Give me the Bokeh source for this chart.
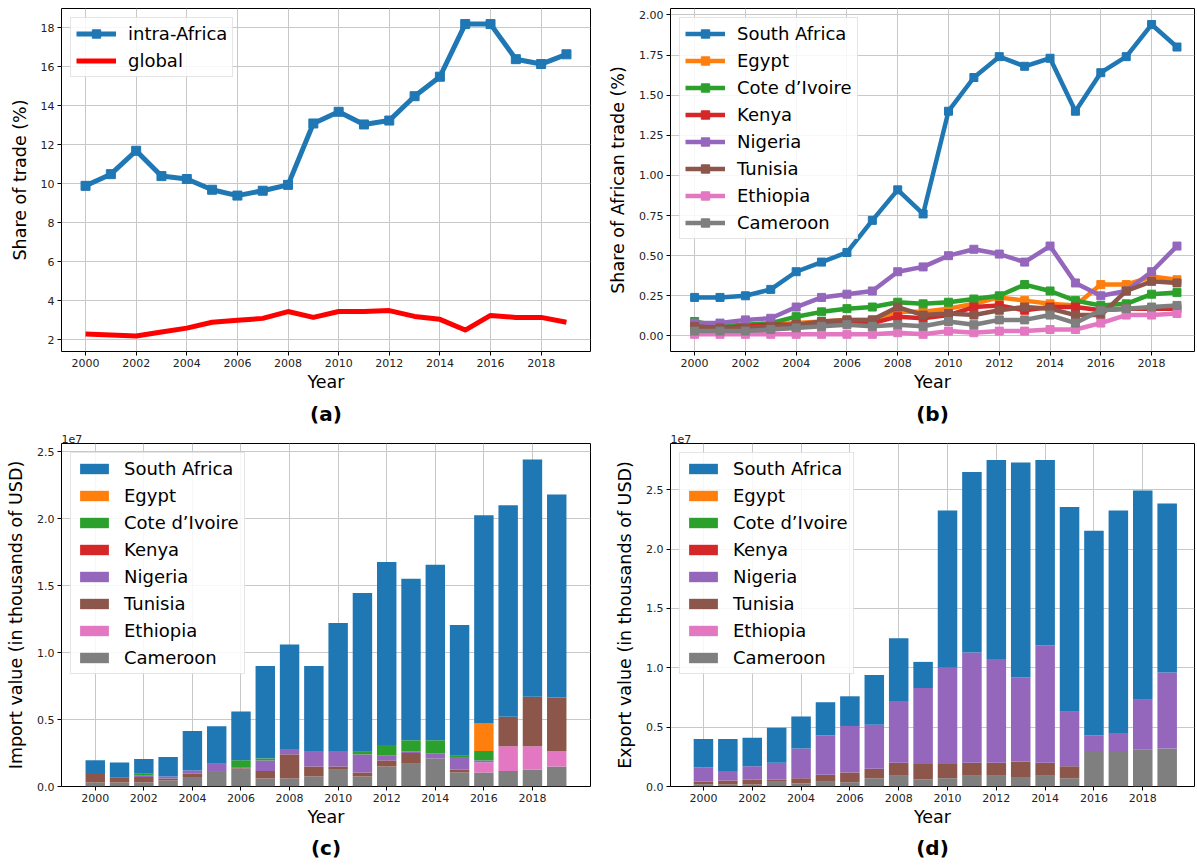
from bokeh.plotting import figure
from bokeh.models import (Range1d, FixedTicker, NumeralTickFormatter, Legend, LegendItem,
                          Title, ColumnDataSource)
from bokeh.layouts import column, row
from bokeh.embed import file_html
from bokeh.resources import INLINE

FONT = "DejaVu Sans"

years = list(range(2000, 2020))

# (a) share of trade (%)
intra_africa = [9.9, 10.5, 11.7, 10.4, 10.25, 9.7, 9.4, 9.65, 9.95, 13.1,
                13.7, 13.05, 13.25, 14.5, 15.5, 18.2, 18.2, 16.4, 16.15, 16.65]
global_share = [2.3, 2.25, 2.2, 2.4, 2.6, 2.9, 3.0, 3.1, 3.45, 3.15,
                3.45, 3.45, 3.5, 3.2, 3.05, 2.5, 3.25, 3.15, 3.15, 2.9]

countries = ["South Africa", "Egypt", "Cote d\u2019Ivoire", "Kenya",
             "Nigeria", "Tunisia", "Ethiopia", "Cameroon"]
colors = ["#1f77b4", "#ff7f0e", "#2ca02c", "#d62728",
          "#9467bd", "#8c564b", "#e377c2", "#7f7f7f"]

# (b) share of African trade (%)
share_south_africa = [0.24, 0.24, 0.25, 0.29, 0.40, 0.46, 0.52, 0.72, 0.91, 0.76,
                      1.40, 1.61, 1.74, 1.68, 1.73, 1.40, 1.64, 1.74, 1.94, 1.80]
share_egypt = [0.05, 0.05, 0.06, 0.07, 0.08, 0.09, 0.10, 0.10, 0.15, 0.15,
               0.17, 0.20, 0.24, 0.22, 0.20, 0.19, 0.32, 0.32, 0.37, 0.35]
share_cote = [0.09, 0.06, 0.07, 0.08, 0.12, 0.15, 0.17, 0.18, 0.21, 0.20,
              0.21, 0.23, 0.25, 0.32, 0.28, 0.22, 0.19, 0.20, 0.26, 0.27]
share_kenya = [0.06, 0.05, 0.06, 0.07, 0.07, 0.08, 0.09, 0.08, 0.12, 0.11,
               0.13, 0.18, 0.19, 0.16, 0.18, 0.18, 0.16, 0.17, 0.17, 0.17]
share_nigeria = [0.08, 0.08, 0.10, 0.11, 0.18, 0.24, 0.26, 0.28, 0.40, 0.43,
                 0.50, 0.54, 0.51, 0.46, 0.56, 0.33, 0.25, 0.28, 0.40, 0.56]
share_tunisia = [0.06, 0.05, 0.05, 0.06, 0.07, 0.09, 0.10, 0.10, 0.18, 0.13,
                 0.14, 0.13, 0.16, 0.18, 0.17, 0.13, 0.13, 0.28, 0.34, 0.33]
share_ethiopia = [0.01, 0.01, 0.01, 0.01, 0.01, 0.01, 0.01, 0.01, 0.02, 0.01,
                  0.03, 0.02, 0.03, 0.03, 0.04, 0.04, 0.08, 0.13, 0.13, 0.14]
share_cameroon = [0.03, 0.03, 0.03, 0.04, 0.05, 0.06, 0.07, 0.06, 0.07, 0.06,
                  0.09, 0.07, 0.10, 0.10, 0.13, 0.08, 0.16, 0.17, 0.18, 0.19]

# (c) import value, in units of 1e7 thousand USD (segment per country)
imp_south_africa = [0.101, 0.114, 0.11, 0.145, 0.295, 0.28, 0.365, 0.69, 0.78, 0.64,
                    0.96, 1.185, 1.365, 1.205, 1.31, 0.975, 1.555, 1.58, 1.77, 1.515]
imp_egypt = [0, 0, 0, 0, 0, 0, 0, 0, 0, 0, 0, 0, 0, 0, 0, 0, 0.205, 0, 0, 0]
imp_cote = [0, 0, 0.015, 0, 0, 0, 0.055, 0.015, 0, 0,
            0, 0.02, 0.08, 0.085, 0.10, 0.01, 0.07, 0, 0, 0]
imp_kenya = [0] * 20
imp_nigeria = [0, 0, 0.01, 0.015, 0.025, 0.055, 0, 0.08, 0.04, 0.11,
               0.11, 0.135, 0.035, 0.01, 0.035, 0.095, 0.015, 0, 0, 0]
imp_tunisia = [0.064, 0.036, 0.04, 0.015, 0.025, 0.005, 0.005, 0.055, 0.18, 0.075,
               0.025, 0.03, 0.045, 0.08, 0, 0.02, 0, 0.22, 0.37, 0.40]
imp_ethiopia = [0, 0, 0, 0, 0, 0, 0, 0, 0, 0, 0, 0, 0, 0, 0, 0, 0.075, 0.185, 0.175, 0.115]
imp_cameroon = [0.03, 0.03, 0.03, 0.045, 0.07, 0.11, 0.135, 0.06, 0.06, 0.075,
                0.125, 0.075, 0.15, 0.17, 0.21, 0.105, 0.105, 0.115, 0.125, 0.15]

# (d) export value, in units of 1e7 thousand USD
exp_south_africa = [0.24, 0.27, 0.24, 0.295, 0.27, 0.28, 0.25, 0.42, 0.53, 0.22,
                    1.325, 1.52, 1.675, 1.81, 1.56, 1.725, 1.725, 1.875, 1.765, 1.425]
exp_egypt = [0] * 20
exp_cote = [0] * 20
exp_kenya = [0] * 20
exp_nigeria = [0.12, 0.08, 0.11, 0.14, 0.25, 0.33, 0.393, 0.37, 0.52, 0.64,
               0.81, 0.93, 0.875, 0.71, 0.99, 0.46, 0.13, 0.15, 0.42, 0.64]
exp_tunisia = [0.02, 0.033, 0.043, 0.02, 0.045, 0.06, 0.081, 0.08, 0.11, 0.13,
               0.12, 0.11, 0.11, 0.13, 0.11, 0.10, 0, 0, 0, 0]
exp_ethiopia = [0] * 20
exp_cameroon = [0.02, 0.017, 0.017, 0.04, 0.025, 0.04, 0.036, 0.07, 0.09, 0.06,
                0.07, 0.09, 0.09, 0.08, 0.09, 0.07, 0.30, 0.30, 0.31, 0.32]

year_ticks = list(range(2000, 2019, 2))


def style(p, ylabel, yticks, yfmt, letter, letter_standoff):
    p.xaxis.ticker = FixedTicker(ticks=year_ticks)
    p.yaxis.ticker = FixedTicker(ticks=yticks)
    p.yaxis.formatter = NumeralTickFormatter(format=yfmt)
    p.xaxis.axis_label = "Year"
    p.yaxis.axis_label = ylabel
    for ax in (p.xaxis[0], p.yaxis[0]):
        ax.axis_label_text_font = FONT
        ax.axis_label_text_font_size = "17.5px"
        ax.axis_label_text_font_style = "normal"
        ax.axis_label_text_color = "black"
        ax.major_label_text_font = FONT
        ax.major_label_text_font_size = "11px"
        ax.major_label_text_color = "#222222"
        ax.axis_line_color = None
        ax.major_tick_in = 0
        ax.major_tick_out = 4
        ax.major_tick_line_color = "black"
        ax.minor_tick_line_color = None
        ax.major_label_standoff = 3
    p.xaxis.axis_label_standoff = 2
    p.yaxis.axis_label_standoff = 8
    p.grid.grid_line_color = "#c8c8c8"
    p.grid.grid_line_width = 1
    p.outline_line_color = "black"
    p.outline_line_width = 1
    p.outline_line_alpha = 1
    p.background_fill_color = "white"
    p.border_fill_color = "white"
    p.add_layout(Title(text=letter, align="center", text_font=FONT,
                       text_font_size="20px", text_font_style="bold",
                       text_color="black", standoff=letter_standoff), "below")


def make_legend(items, glyph_w, glyph_h):
    return Legend(items=items, location="top_left", label_text_font=FONT,
                  label_text_font_size="18px", label_text_color="black",
                  glyph_width=glyph_w, glyph_height=glyph_h, label_height=21,
                  spacing=6, padding=5, label_standoff=12, margin=9,
                  border_line_color="#cccccc", border_line_width=1,
                  background_fill_color="white", background_fill_alpha=0.85)


# ---------- (a)
pa = figure(width=600, height=430, output_backend="svg", toolbar_location=None,
            x_range=Range1d(1999.05, 2019.95), y_range=Range1d(1.4, 19.0),
            min_border_left=61, min_border_right=10, min_border_top=8, min_border_bottom=75)
la1 = pa.line(years, intra_africa, line_color=colors[0], line_width=5, line_join="round")
sa1 = pa.scatter(years, intra_africa, marker="square", size=9, fill_color=colors[0],
                 line_color=colors[0])
la2 = pa.line(years, global_share, line_color="red", line_width=5, line_join="round")
style(pa, "Share of trade (%)", list(range(2, 19, 2)), "0", "(a)", 10)
pa.add_layout(make_legend([LegendItem(label="intra-Africa", renderers=[la1, sa1]),
                           LegendItem(label="global", renderers=[la2])], 40, 21))

# ---------- (b)
pb = figure(width=596, height=430, output_backend="svg", toolbar_location=None,
            x_range=Range1d(1999.05, 2019.69), y_range=Range1d(-0.097, 2.04),
            min_border_left=70, min_border_right=2, min_border_top=8, min_border_bottom=75)
shares = [share_south_africa, share_egypt, share_cote, share_kenya,
          share_nigeria, share_tunisia, share_ethiopia, share_cameroon]
items_b = []
for name, col, vals in zip(countries, colors, shares):
    l = pb.line(years, vals, line_color=col, line_width=4.5, line_join="round")
    s = pb.scatter(years, vals, marker="square", size=8, fill_color=col, line_color=col)
    items_b.append(LegendItem(label=name, renderers=[l, s]))
style(pb, "Share of African trade (%)", [0, 0.25, 0.5, 0.75, 1.0, 1.25, 1.5, 1.75, 2.0],
      "0.00", "(b)", 10)
pb.add_layout(make_legend(items_b, 40, 21))


def bar_panel(width, xr, ymax, left, right, data, ylabel, letter):
    p = figure(width=width, height=434, output_backend="svg", toolbar_location=None,
               x_range=Range1d(*xr), y_range=Range1d(0, ymax),
               min_border_left=left, min_border_right=right, min_border_top=13,
               min_border_bottom=74)
    p.add_layout(Title(text="1e7", align="left", text_font=FONT, text_font_size="11px",
                       text_font_style="normal", text_color="#222222", standoff=1), "above")
    src = dict(year=years)
    for i, vals in enumerate(data):
        src["c%d" % i] = vals
    source = ColumnDataSource(src)
    # stack from bottom: Cameroon ... South Africa
    order = list(range(7, -1, -1))
    rends = p.vbar_stack(["c%d" % i for i in order], x="year", width=0.8, source=source,
                         fill_color=[colors[i] for i in order], line_color=None)
    by_idx = {i: r for i, r in zip(order, rends)}
    style(p, ylabel, [0, 0.5, 1.0, 1.5, 2.0, 2.5], "0.0", letter, 9)
    p.add_layout(make_legend([LegendItem(label=countries[i], renderers=[by_idx[i]])
                              for i in range(8)], 36, 13))
    return p


pc = bar_panel(600, (1998.61, 2020.39), 2.56, 61, 10,
               [imp_south_africa, imp_egypt, imp_cote, imp_kenya, imp_nigeria,
                imp_tunisia, imp_ethiopia, imp_cameroon],
               "Import value (in thousands of USD)", "(c)")
pd_ = bar_panel(596, (1998.65, 2020.12), 2.89, 70, 2,
                [exp_south_africa, exp_egypt, exp_cote, exp_kenya, exp_nigeria,
                 exp_tunisia, exp_ethiopia, exp_cameroon],
                "Export value (in thousands of USD)", "(d)")

layout = column(row(pa, pb), row(pc, pd_))
open("out.html", "w").write(file_html(layout, INLINE))
